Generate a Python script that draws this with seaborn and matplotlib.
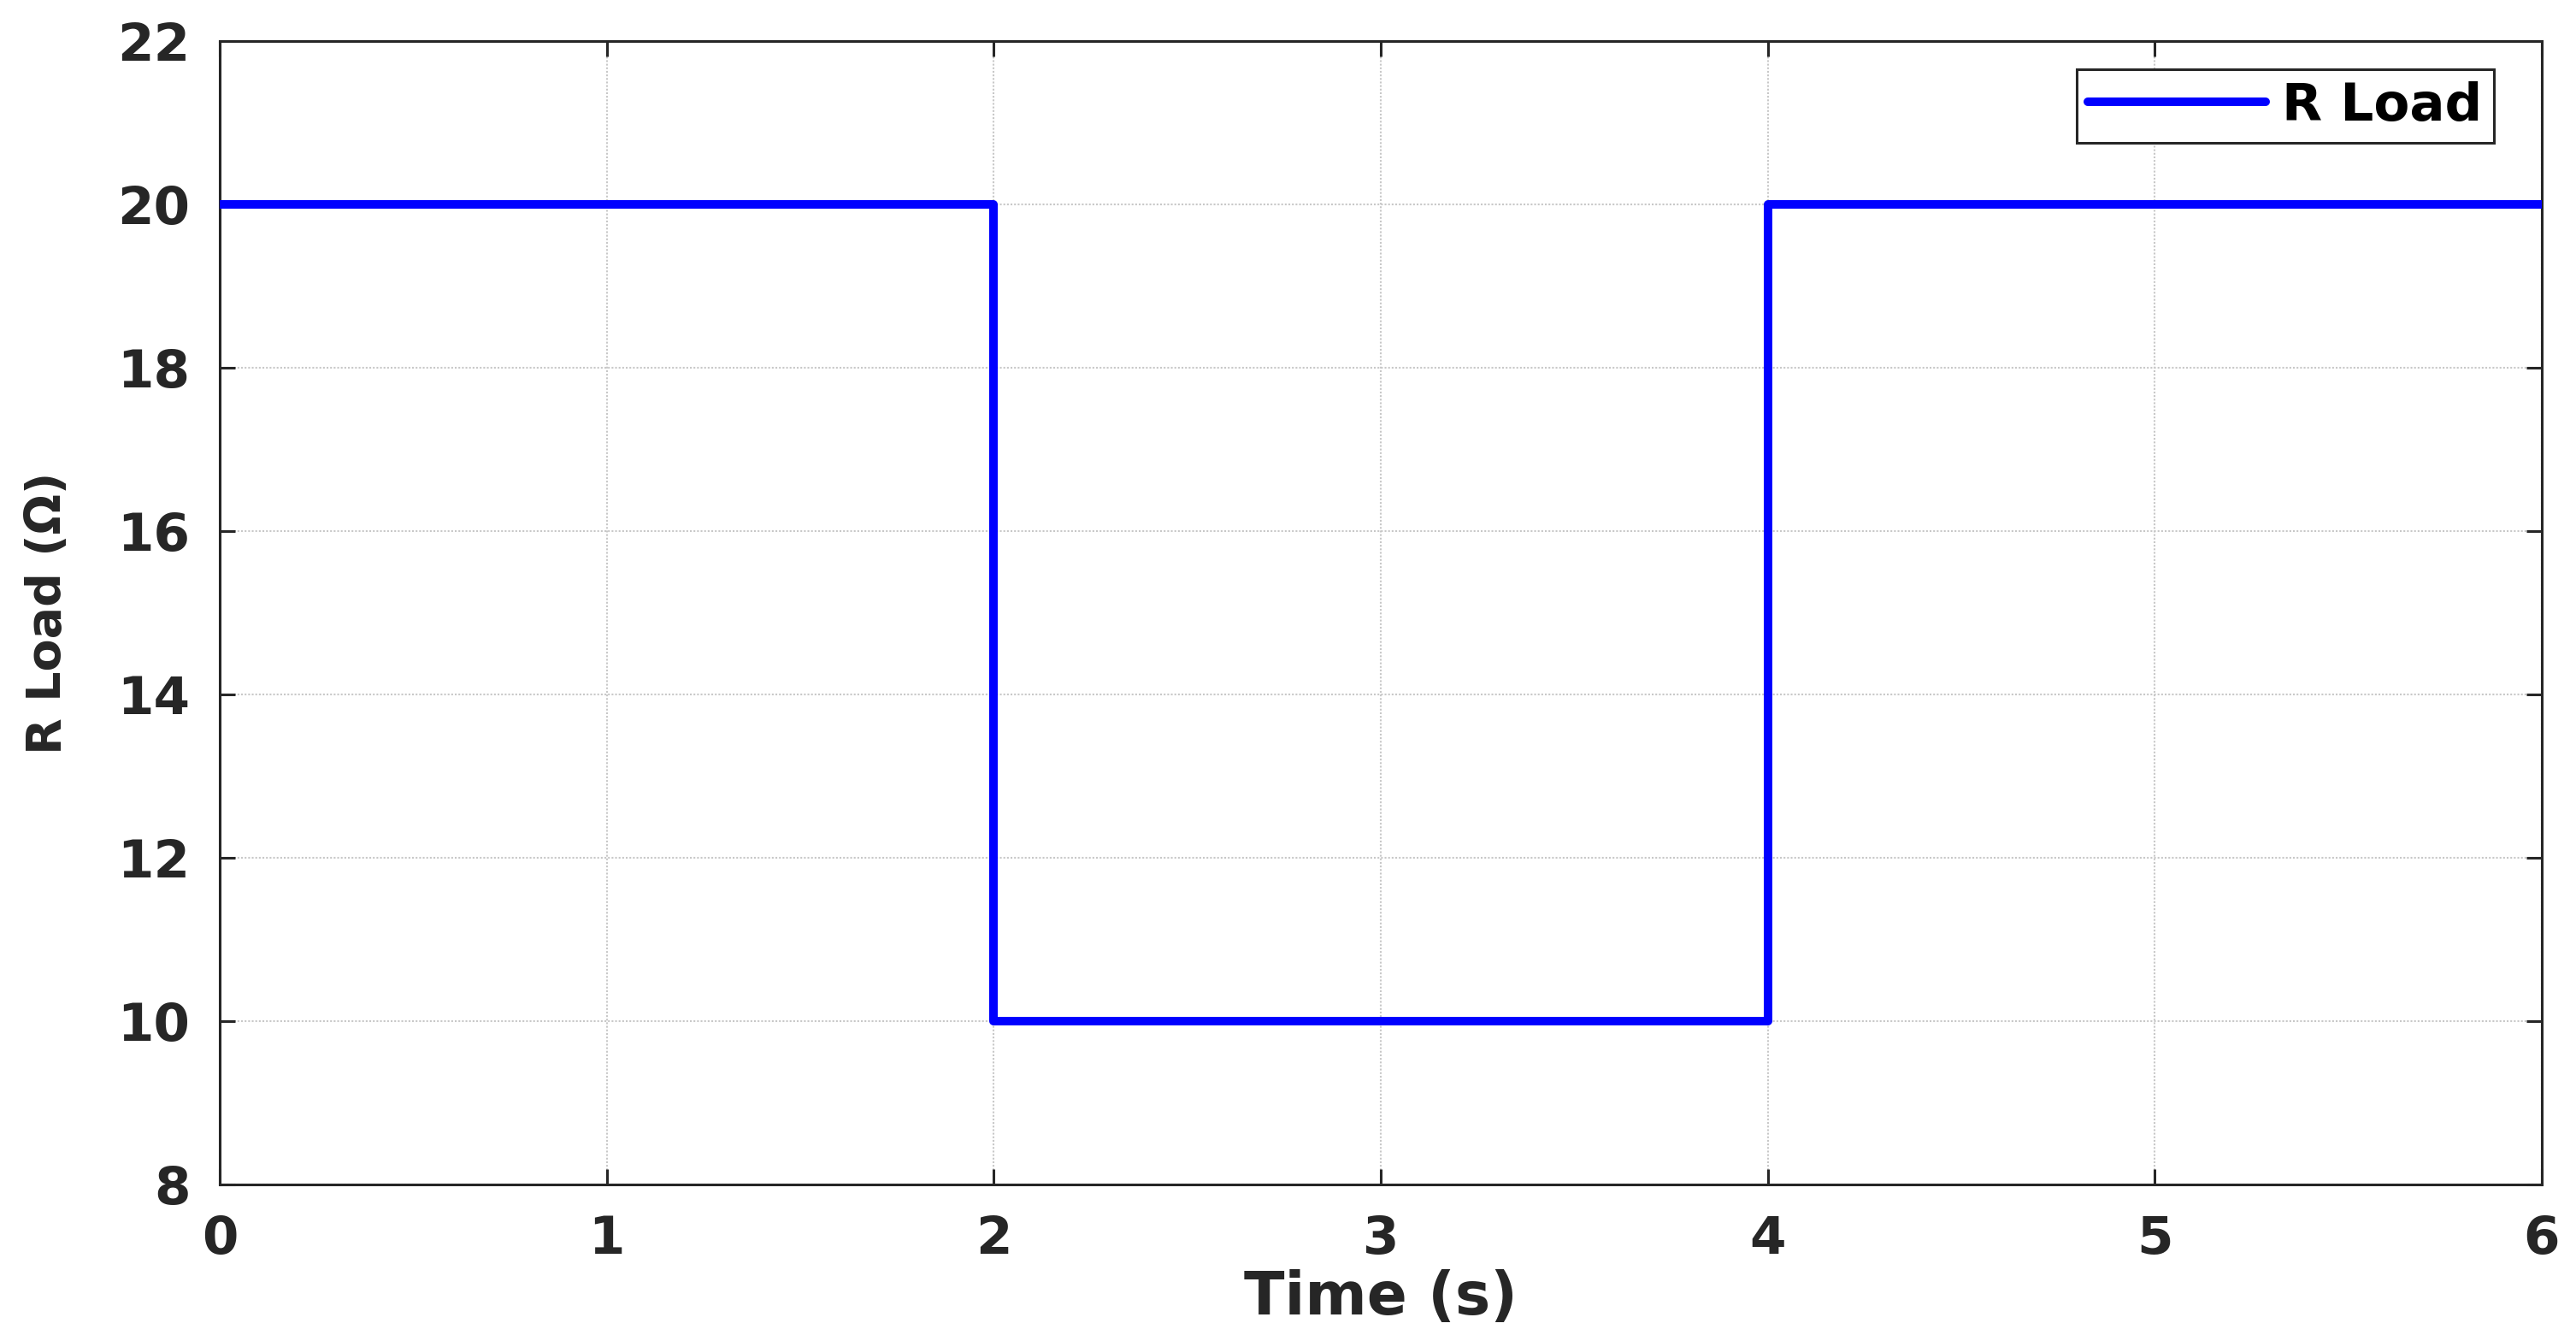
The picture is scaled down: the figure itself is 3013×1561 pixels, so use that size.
import matplotlib
matplotlib.use("Agg")
import matplotlib.pyplot as plt
import seaborn as sns
import pandas as pd

# load profile (step changes)
tiempo = [0, 2, 4, 6]
r_carga = [20, 10, 20, 20]
x_ticks = [0, 1, 2, 3, 4, 5, 6]
y_ticks = [8, 10, 12, 14, 16, 18, 20, 22]

sns.set_theme(style="white")
plt.rcParams["font.family"] = ["DejaVu Sans"]
plt.rcParams["font.weight"] = "bold"

df = pd.DataFrame({"t": tiempo, "R": r_carga})

fig = plt.figure(figsize=(30.13, 15.61), dpi=100)
ax = fig.add_axes([0.0853, 0.1127, 0.9014, 0.8565])

sns.lineplot(
    data=df, x="t", y="R", ax=ax, estimator=None, sort=False,
    drawstyle="steps-post", color="#0000ff", linewidth=7.2,
    label="R Load", zorder=3,
)

ax.set_xlim(0, 6)
ax.set_ylim(8, 22)
ax.set_xticks(x_ticks)
ax.set_yticks(y_ticks)

ax.grid(True, color="#c8c8c8", linestyle=(0, (1, 1)), linewidth=1.5, zorder=0)
for s in ax.spines.values():
    s.set_visible(True)
    s.set_color("#262626")
    s.set_linewidth(2.2)

ax.tick_params(
    axis="both", direction="in", length=13, width=2.2, color="#262626",
    labelsize=44, labelcolor="#262626", pad=25,
    top=True, right=True, bottom=True, left=True,
)
for lab in ax.get_xticklabels() + ax.get_yticklabels():
    lab.set_fontweight("bold")

ax.set_xlabel("Time (s)", fontsize=50, fontweight="bold", color="#262626")
ax.set_ylabel("R Load (Ω)", fontsize=40, fontweight="bold", color="#262626")
ax.xaxis.set_label_coords(0.5, -0.074)
ax.yaxis.set_label_coords(-0.064, 0.5)

leg = ax.legend(
    loc="upper right", bbox_to_anchor=(0.9794, 0.9753), borderaxespad=0,
    fancybox=False, framealpha=1, edgecolor="#262626",
    handlelength=3.4, handletextpad=0.32, borderpad=0.22,
    prop={"size": 44, "weight": "bold"},
)
leg.get_frame().set_linewidth(2.2)
for txt in leg.get_texts():
    txt.set_color("black")

fig.savefig("out.png", dpi=100, facecolor="white")
